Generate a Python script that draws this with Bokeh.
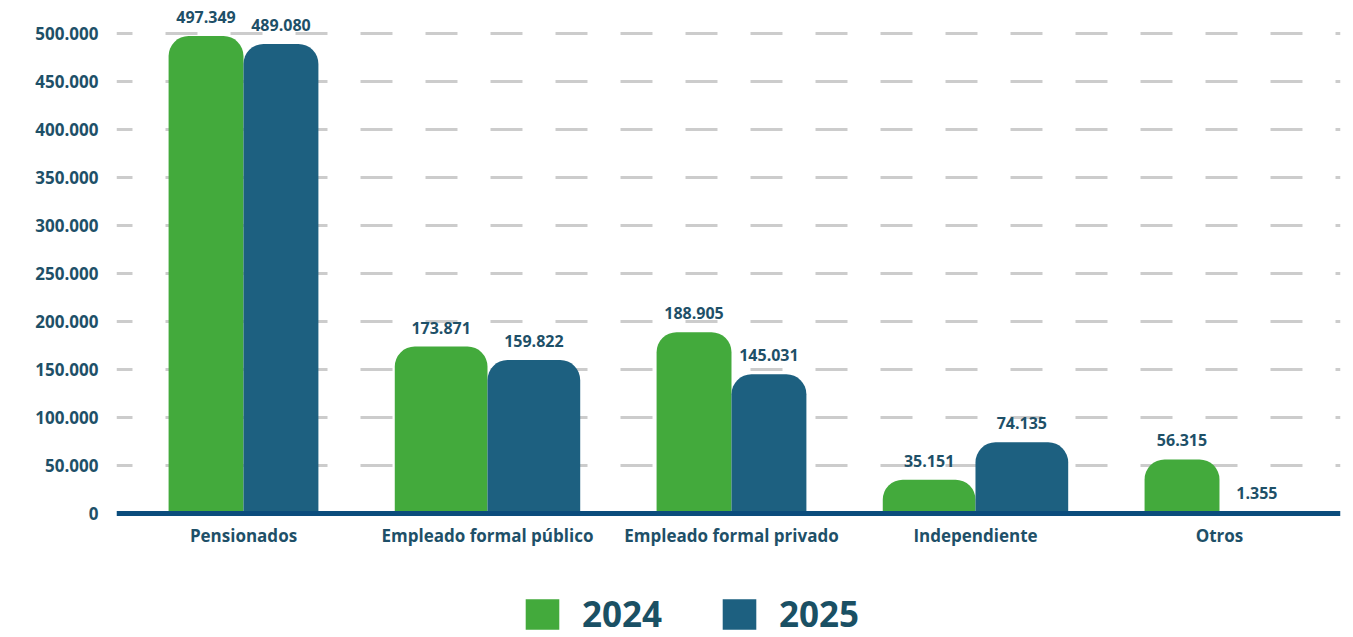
from bokeh.plotting import figure
from bokeh.models import ColumnDataSource, LabelSet, Legend, LegendItem, FixedTicker, Range1d
from bokeh.embed import file_html
from bokeh.resources import INLINE
from bokeh.core.properties import value

# ---- data ----
categories = ["Pensionados", "Empleado formal público", "Empleado formal privado", "Independiente", "Otros"]
series_2024 = [497349, 173871, 188905, 35151, 56315]
series_2025 = [489080, 159822, 145031, 74135, 1355]
years = ["2024", "2025"]
y_ticks = [0, 50000, 100000, 150000, 200000, 250000, 300000, 350000, 400000, 450000, 500000]
y_tick_labels = ["0", "50.000", "100.000", "150.000", "200.000", "250.000",
                 "300.000", "350.000", "400.000", "450.000", "500.000"]

# ---- style ----
bar_widths = [0.307, 0.38, 0.307, 0.38, 0.307]
GREEN = "#43aa3c"
BLUE = "#1d6080"
TEXT = "#1e5068"
FONT = "Open Sans"


def fmt(v):
    return f"{v:,}".replace(",", ".")


idx = list(range(len(categories)))
src24 = ColumnDataSource(dict(
    x=[i - w / 2 for i, w in zip(idx, bar_widths)], top=series_2024, w=bar_widths,
    lab=[fmt(v) for v in series_2024]))
src25 = ColumnDataSource(dict(
    x=[i + w / 2 for i, w in zip(idx, bar_widths)], top=series_2025, w=bar_widths,
    lab=[fmt(v) for v in series_2025]))

PX = 480 / 500000  # pixels per unit
p = figure(width=1350, height=637, output_backend="svg", toolbar_location=None,
           x_range=Range1d(-0.5205, 4.496),
           y_range=Range1d(-(637 - 513) / PX, 500000 + 33 / PX),
           min_border_left=116, min_border_right=10, min_border_top=0, min_border_bottom=0)
p.outline_line_color = None
p.background_fill_color = "white"

r24 = p.vbar(x="x", top="top", width="w", bottom=0, source=src24, fill_color=GREEN,
             line_color=None, border_radius=(20, 20, 0, 0))
r25 = p.vbar(x="x", top="top", width="w", bottom=0, source=src25, fill_color=BLUE,
             line_color=None, border_radius=(20, 20, 0, 0))

for s in (src24, src25):
    p.add_layout(LabelSet(x="x", y="top", text="lab", source=s, text_align="center",
                          text_baseline="alphabetic", y_offset=13,
                          text_font=value(FONT), text_font_style="bold",
                          text_font_size="16px", text_color=TEXT))

# y axis
p.yaxis.ticker = FixedTicker(ticks=y_ticks)
p.yaxis.major_label_overrides = {t: l for t, l in zip(y_ticks, y_tick_labels)}
p.yaxis.axis_line_color = None
p.yaxis.major_tick_line_color = None
p.yaxis.minor_tick_line_color = None
p.yaxis.major_label_standoff = 12
p.yaxis.major_label_text_font = FONT
p.yaxis.major_label_text_font_style = "bold"
p.yaxis.major_label_text_font_size = "17px"
p.yaxis.major_label_text_color = TEXT

# x axis (drawn at zero, acts as the baseline)
p.xaxis.fixed_location = 0
p.xaxis.ticker = FixedTicker(ticks=idx)
p.xaxis.major_label_overrides = {i: c for i, c in zip(idx, categories)}
p.xaxis.axis_line_color = "#0b4c7c"
p.xaxis.axis_line_width = 5
p.xaxis.major_tick_line_color = None
p.xaxis.minor_tick_line_color = None
p.xaxis.major_label_standoff = 4
p.xaxis.major_label_text_font = FONT
p.xaxis.major_label_text_font_style = "bold"
p.xaxis.major_label_text_font_size = "17px"
p.xaxis.major_label_text_color = TEXT

# grid
p.xgrid.grid_line_color = None
p.ygrid.ticker = FixedTicker(ticks=y_ticks[1:])
p.ygrid.grid_line_color = "#cccccc"
p.ygrid.grid_line_width = 3
p.ygrid.grid_line_dash = "32 33"
p.ygrid.grid_line_dash_offset = 16

legend = Legend(items=[LegendItem(label=years[0], renderers=[r24]),
                       LegendItem(label=years[1], renderers=[r25])],
                orientation="horizontal", location=(405, 0),
                glyph_width=42, glyph_height=38, label_standoff=19, spacing=56,
                padding=0, margin=0, border_line_color=None, background_fill_alpha=0,
                label_text_font=FONT, label_text_font_style="bold",
                label_text_font_size="35px", label_text_color="#1a5064")
p.add_layout(legend)

open("out.html", "w").write(file_html(p, INLINE))
